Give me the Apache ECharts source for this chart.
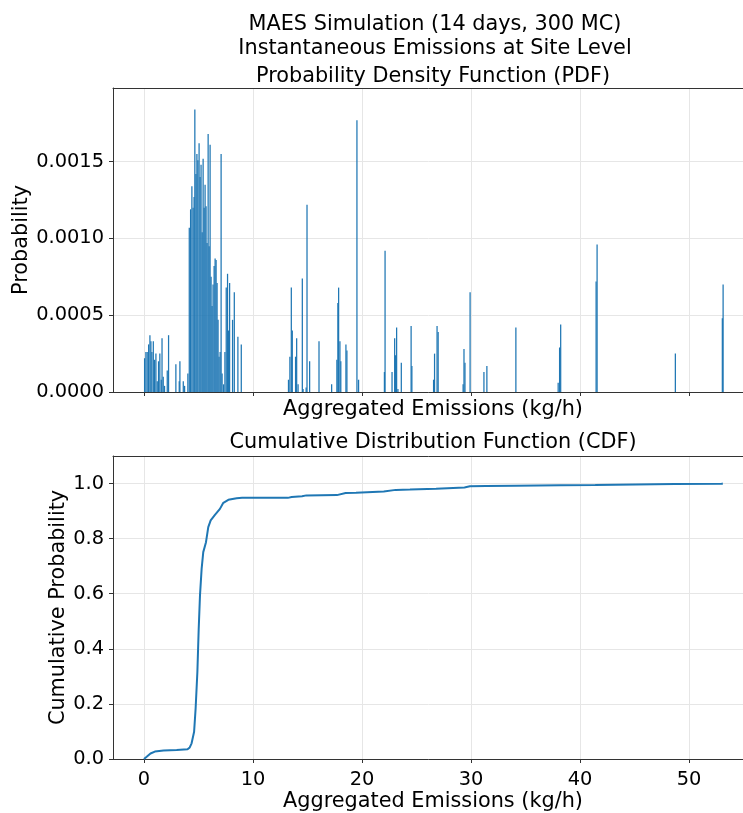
<!DOCTYPE html>
<html><head><meta charset="utf-8">
<script src="https://cdn.jsdelivr.net/npm/echarts@6.0.0/dist/echarts.min.js"></script>
<style>html,body{margin:0;padding:0;background:#fff}#c{width:743px;height:813px}</style>
</head><body><div id="c"></div>
<script>
// ---- Data ----
const pdfX = [
  0.0, 0.12, 0.24, 0.37, 0.49, 0.58, 0.67, 0.8, 0.92, 1.04, 1.16, 1.28, 1.4, 1.53, 1.6, 1.71, 1.83, 2.08, 2.2,
  2.87, 3.18, 3.24, 3.55, 3.67, 3.97,
  4.10, 4.22, 4.34, 4.45, 4.54, 4.61, 4.71, 4.80, 4.89, 5.00, 5.09, 5.18, 5.28, 5.37, 5.46, 5.55, 5.64, 5.73,
  5.83, 5.92, 6.01, 6.10, 6.19, 6.28, 6.38, 6.47, 6.56, 6.65, 6.74, 6.83, 6.93, 7.02, 7.11, 7.25, 7.37, 7.49,
  7.61, 7.71, 7.80, 8.07, 8.23, 8.56, 8.87,
  13.2, 13.33, 13.46, 13.55, 13.85, 13.95, 14.08, 14.47, 14.54, 14.82, 14.9, 15.14, 16.0, 17.16, 17.64, 17.73,
  17.8, 17.92, 18.0, 18.47, 18.56, 19.48, 19.63,
  22.0, 22.06, 22.7, 22.94, 23.03, 23.12, 23.24, 23.55, 24.45, 24.52, 26.51, 26.6, 26.83, 26.93,
  29.22, 29.3, 29.39, 29.86, 31.13, 31.4, 34.06, 37.94, 38.07, 38.17, 41.42, 41.51, 48.69, 53.0, 53.07
];
const pdfY = [
  0.00022, 0.00026, 0.00026, 0.00031, 0.00037, 0.00033, 0.00026, 0.00033, 0.00021, 0.00025, 0.00007, 0.00020, 0.00025, 0.00008, 0.00035, 0.00010, 0.00004, 0.00014, 0.00037,
  0.00018, 0.00007, 0.00020, 0.00007, 0.00004, 0.00012,
  0.00107, 0.00119, 0.00134, 0.00120, 0.00127, 0.00184, 0.00142, 0.00155, 0.00151, 0.00162, 0.00140, 0.00148, 0.00104, 0.00152, 0.00120, 0.00135, 0.00121, 0.00097,
  0.00168, 0.00095, 0.00161, 0.00075, 0.00056, 0.00070, 0.00082, 0.00087, 0.00086, 0.00071, 0.00047, 0.00023, 0.00026, 0.00155, 0.00012, 0.00005, 0.00026, 0.00068,
  0.00077, 0.00040, 0.00071, 0.00047, 0.00065, 0.00036, 0.00031,
  0.00008, 0.00023, 0.00068, 0.00040, 0.00023, 0.00035, 0.00005, 0.00074, 0.00002, 0.00003, 0.00122, 0.00020, 0.00033, 0.00005, 0.00021, 0.00058,
  0.00068, 0.00033, 0.00020, 0.00031, 0.00027, 0.00177, 0.00008,
  0.00013, 0.00092, 0.00013, 0.00035, 0.00024, 0.00042, 0.00002, 0.00019, 0.00043, 0.00017, 0.00008, 0.00025, 0.00043, 0.00039,
  0.00005, 0.00028, 0.00019, 0.00065, 0.00013, 0.00017, 0.00042, 0.00006, 0.00029, 0.00044, 0.00072, 0.00096, 0.00025, 0.00048, 0.00070
];
const cdfX = [0, 0.25, 0.6, 1.0, 1.8, 3.0, 4.0, 4.2, 4.37, 4.6, 4.74, 4.9, 5.02, 5.14, 5.29, 5.44, 5.69, 5.9, 6.12,
  6.51, 6.97, 7.28, 7.74, 8.5, 9.0, 13.2, 13.55, 14.5, 14.9, 17.7, 17.8, 18.5, 19.45, 19.5, 22.0, 22.1, 23.1,
  24.4, 24.5, 26.8, 26.9, 29.4, 29.9, 31.4, 34.1, 38.2, 41.4, 41.5, 48.7, 53.0, 53.1];
const cdfY = [0, 0.008, 0.02, 0.027, 0.031, 0.033, 0.035, 0.042, 0.057, 0.099, 0.184, 0.316, 0.47, 0.594, 0.69, 0.751, 0.787, 0.842, 0.866,
  0.886, 0.908, 0.930, 0.941, 0.947, 0.948, 0.948, 0.951, 0.954, 0.957, 0.958, 0.964, 0.966, 0.967, 0.970, 0.971, 0.974, 0.977,
  0.978, 0.980, 0.981, 0.984, 0.986, 0.990, 0.991, 0.992, 0.994, 0.995, 0.997, 0.998, 0.999, 1.0];
const xTicks = [0, 10, 20, 30, 40, 50];
const pdfTicks = [0, 0.0005, 0.001, 0.0015];
const cdfTicks = [0, 0.2, 0.4, 0.6, 0.8, 1.0];

// ---- Chart ----
const BLUE = '#1f77b4';
const FONT = 'DejaVu Sans';
const TICK_FS = 19.4, LABEL_FS = 20.8;
const BIN_W = 0.115;
const XMIN = -2.84, XMAX = 55.87;
const chart = echarts.init(document.getElementById('c'), null, {renderer: 'canvas'});

const axisLine = {show: true, onZero: false, lineStyle: {color: '#333', width: 1}};
const axisTick = (vals) => ({show: true, length: 4, customValues: vals, lineStyle: {color: '#333', width: 1}});
const splitLine = {show: true, lineStyle: {color: '#e6e6e6', width: 1}};
const nameStyle = {fontSize: LABEL_FS, fontFamily: FONT, color: '#000'};

function xAxis(grid, showLabels) {
  return {
    type: 'value', gridIndex: grid, min: XMIN, max: XMAX, splitNumber: 5,
    axisLine, axisTick: axisTick(xTicks), splitLine,
    axisLabel: {show: showLabels, customValues: xTicks, fontSize: TICK_FS, fontFamily: FONT, color: '#000', margin: 11},
    name: 'Aggregated Emissions (kg/h)', nameLocation: 'middle', nameGap: showLabels ? 32 : 7, nameTextStyle: nameStyle
  };
}
function topSpine(grid) {
  return {
    type: 'value', gridIndex: grid, position: 'top', min: XMIN, max: XMAX,
    axisLine: {show: true, onZero: false, lineStyle: {color: '#333', width: 1}},
    axisTick: {show: false}, axisLabel: {show: false}, splitLine: {show: false}
  };
}

const option = {
  animation: false,
  backgroundColor: '#fff',
  grid: [
    {left: 113, top: 88, width: 640, height: 304, outerBoundsMode: 'none', containLabel: false, show: false},
    {left: 113, top: 456, width: 640, height: 303, outerBoundsMode: 'none', containLabel: false, show: false}
  ],
  xAxis: [xAxis(0, false), xAxis(1, true), topSpine(0), topSpine(1)],
  yAxis: [
    {type: 'value', gridIndex: 0, min: 0, max: 0.00198, interval: 0.0005,
      axisLine, axisTick: axisTick(pdfTicks), splitLine,
      axisLabel: {customValues: pdfTicks, formatter: v => v.toFixed(4), fontSize: TICK_FS, fontFamily: FONT, color: '#000', margin: 9},
      name: 'Probability', nameLocation: 'middle', nameGap: 81, nameMoveOverlap: false, nameTextStyle: nameStyle},
    {type: 'value', gridIndex: 1, min: 0, max: 1.1, interval: 0.2,
      axisLine, axisTick: axisTick(cdfTicks), splitLine,
      axisLabel: {customValues: cdfTicks, formatter: v => v.toFixed(1), fontSize: TICK_FS, fontFamily: FONT, color: '#000', margin: 9},
      name: 'Cumulative Probability', nameLocation: 'middle', nameGap: 44, nameMoveOverlap: false, nameTextStyle: nameStyle}
  ],
  graphic: [
    {type: 'text', style: {text: 'MAES Simulation (14 days, 300 MC)', x: 435, y: 25, align: 'center', verticalAlign: 'middle', font: LABEL_FS + 'px "DejaVu Sans"', fill: '#000'}},
    {type: 'text', style: {text: 'Instantaneous Emissions at Site Level', x: 435, y: 49, align: 'center', verticalAlign: 'middle', font: LABEL_FS + 'px "DejaVu Sans"', fill: '#000'}},
    {type: 'text', style: {text: 'Probability Density Function (PDF)', x: 433, y: 77, align: 'center', verticalAlign: 'middle', font: LABEL_FS + 'px "DejaVu Sans"', fill: '#000'}},
    {type: 'text', style: {text: 'Cumulative Distribution Function (CDF)', x: 433, y: 443, align: 'center', verticalAlign: 'middle', font: LABEL_FS + 'px "DejaVu Sans"', fill: '#000'}}
  ],
  series: [
    {
      type: 'custom', xAxisIndex: 0, yAxisIndex: 0, clip: true,
      data: pdfX.map((x, i) => [x, pdfY[i]]),
      encode: {x: 0, y: 1},
      renderItem: function (params, api) {
        const x0 = api.value(0), y = api.value(1);
        const p0 = api.coord([x0, 0]);
        const p1 = api.coord([x0 + BIN_W, y]);
        return {
          type: 'rect',
          shape: {x: p0[0], y: p1[1], width: Math.max(p1[0] - p0[0], 1), height: p0[1] - p1[1]},
          style: {fill: BLUE}
        };
      }
    },
    {
      type: 'line', xAxisIndex: 1, yAxisIndex: 1, showSymbol: false, smooth: false,
      data: cdfX.map((x, i) => [x, cdfY[i]]),
      lineStyle: {color: BLUE, width: 2}, itemStyle: {color: BLUE}
    }
  ]
};
chart.setOption(option);
</script></body></html>
